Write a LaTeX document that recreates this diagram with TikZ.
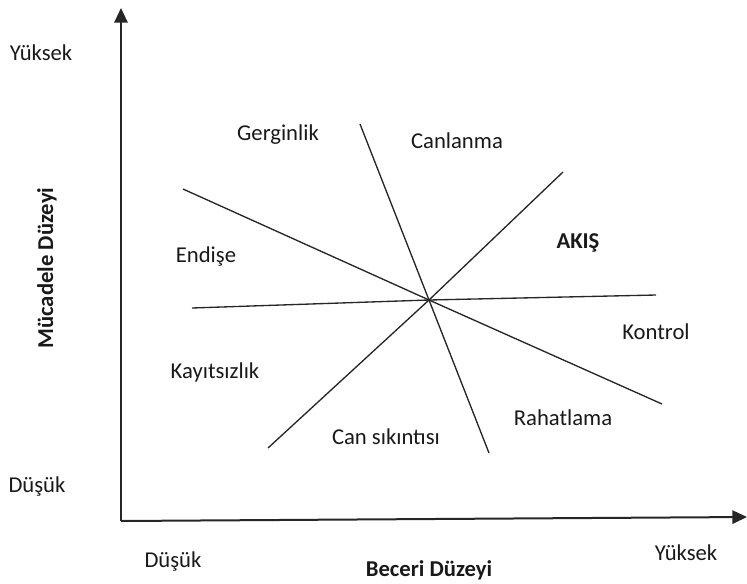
\documentclass[tikz,border=0pt]{standalone}
\usepackage{fontspec}
\setmainfont{Carlito}
\usetikzlibrary{arrows.meta}
\begin{document}
\begin{tikzpicture}[x=0.75pt,y=-0.75pt,
  axis/.style={line width=1.5pt,draw=black!85,-{Triangle[length=11pt,width=10pt]}},
  zone/.style={line width=1pt,draw=black!85},
  lbl/.style={inner sep=0pt,font=\fontsize{17}{20}\selectfont,text=black!90},
  blbl/.style={lbl,font=\fontsize{17}{20}\selectfont\bfseries}]
\useasboundingbox (0,0) rectangle (747,583);
% axes
\coordinate (origin) at (121,521);
\coordinate (ytip) at (121,8);
\coordinate (xtip) at (747,517);
\draw[axis] (origin) -- (ytip);
\draw[axis] (origin) -- (xtip);
% zone lines
\coordinate (c) at (429,300);
\coordinate (h1) at (192,308);
\coordinate (h2) at (656,295);
\coordinate (s1) at (360,124);
\coordinate (s2) at (489,453);
\coordinate (a1) at (183,189);
\coordinate (a2) at (662,404);
\coordinate (d1) at (268,448);
\coordinate (d2) at (563,172);
\draw[zone] (h1) -- (c) -- (h2);
\draw[zone] (s1) -- (c) -- (s2);
\draw[zone] (a1) -- (c) -- (a2);
\draw[zone] (d1) -- (c) -- (d2);
% axis labels
\node[lbl] (yhigh) at (41,53) {Yüksek};
\node[lbl] (ylow) at (37,487) {Düşük};
\node[blbl,rotate=90] (ylabel) at (47,268) {Mücadele Düzeyi};
\node[lbl] (xlow) at (173,562) {Düşük};
\node[blbl] (xlabel) at (429,570) {Beceri Düzeyi};
\node[lbl] (xhigh) at (686,553) {Yüksek};
% zone labels
\node[lbl] (gerg) at (278,135) {Gerginlik};
\node[lbl] (canl) at (457,141) {Canlanma};
\node[blbl] (akis) at (578,243) {AKIŞ};
\node[lbl] (endise) at (206,257) {Endişe};
\node[lbl] (kontrol) at (656,332) {Kontrol};
\node[lbl] (kayit) at (215,372) {Kayıtsızlık};
\node[lbl] (rahat) at (563,418) {Rahatlama};
\node[lbl] (cansik) at (386,437) {Can sıkıntısı};
\end{tikzpicture}
\end{document}
